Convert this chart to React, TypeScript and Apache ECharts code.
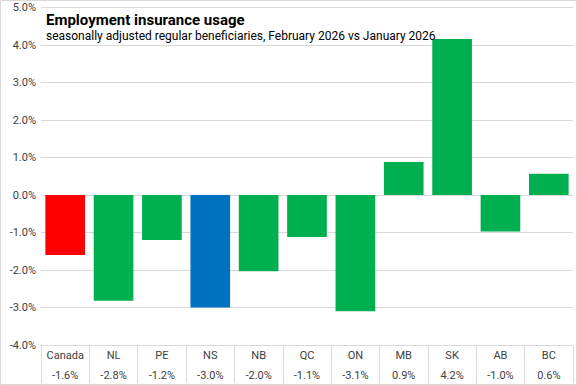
import React, { useEffect, useRef } from "react";
import * as echarts from "echarts";

const categories = ["Canada", "NL", "PE", "NS", "NB", "QC", "ON", "MB", "SK", "AB", "BC"];
const values = [-1.6, -2.82, -1.2, -3.0, -2.03, -1.12, -3.1, 0.88, 4.16, -0.97, 0.57];
const valueLabels = ["-1.6%", "-2.8%", "-1.2%", "-3.0%", "-2.0%", "-1.1%", "-3.1%", "0.9%", "4.2%", "-1.0%", "0.6%"];
const barColors = ["#FF0000", "#00B050", "#00B050", "#0070C0", "#00B050", "#00B050", "#00B050", "#00B050", "#00B050", "#00B050", "#00B050"];
const titleText = "Employment insurance usage";
const subtitleText = "seasonally adjusted regular beneficiaries, February 2026 vs January 2026";

export default function App() {
  const ref = useRef<HTMLDivElement>(null);
  useEffect(() => {
    if (!ref.current) return;
    const chart = echarts.init(ref.current, null, { renderer: "svg" });
    const font = "Roboto, 'Liberation Sans', sans-serif";
    chart.setOption({
      animation: false,
      backgroundColor: "#ffffff",
      textStyle: { fontFamily: font },
      title: {
        text: titleText,
        subtext: subtitleText,
        left: 41,
        top: 7,
        itemGap: 3,
        textStyle: { fontFamily: font, fontSize: 15, fontWeight: "bold", color: "#000" },
        subtextStyle: { fontFamily: font, fontSize: 12, color: "#000" },
      },
      grid: { left: 41, right: 4, top: 7.5, bottom: 40, containLabel: false, outerBoundsMode: "none" },
      xAxis: {
        type: "category",
        data: categories,
        position: "bottom",
        axisLine: { show: true, onZero: false, lineStyle: { color: "#d9d9d9" } },
        axisTick: { show: true, length: 38, alignWithLabel: false, interval: 0, lineStyle: { color: "#d9d9d9" } },
        axisLabel: {
          interval: 0,
          margin: 0,
          color: "#404040",
          fontSize: 11,
          lineHeight: 20,
          formatter: (v: string) => {
            const i = categories.indexOf(v);
            return v + "\n" + valueLabels[i];
          },
        },
      },
      yAxis: {
        type: "value",
        min: -4,
        max: 5,
        interval: 1,
        axisLine: { show: false },
        axisTick: { show: false },
        splitLine: { lineStyle: { color: "#d9d9d9" } },
        axisLabel: {
          color: "#404040",
          fontSize: 11,
          margin: 5,
          showMinLabel: true,
          showMaxLabel: true,
          formatter: (v: number) => v.toFixed(1) + "%",
        },
      },
      series: [
        {
          type: "bar",
          data: values.map((v, i) => ({ value: v, itemStyle: { color: barColors[i] } })),
          barCategoryGap: "18%",
        },
      ],
      graphic: [
        {
          type: "rect",
          shape: { x: 0.5, y: 0.5, width: 576, height: 384 },
          style: { fill: "none", stroke: "#d9d9d9", lineWidth: 1 },
          silent: true,
        },
      ],
    });
    return () => chart.dispose();
  }, []);
  return (
    <div
      ref={ref}
      style={{ position: "fixed", left: 0, top: 0, width: 577, height: 385 }}
    />
  );
}
